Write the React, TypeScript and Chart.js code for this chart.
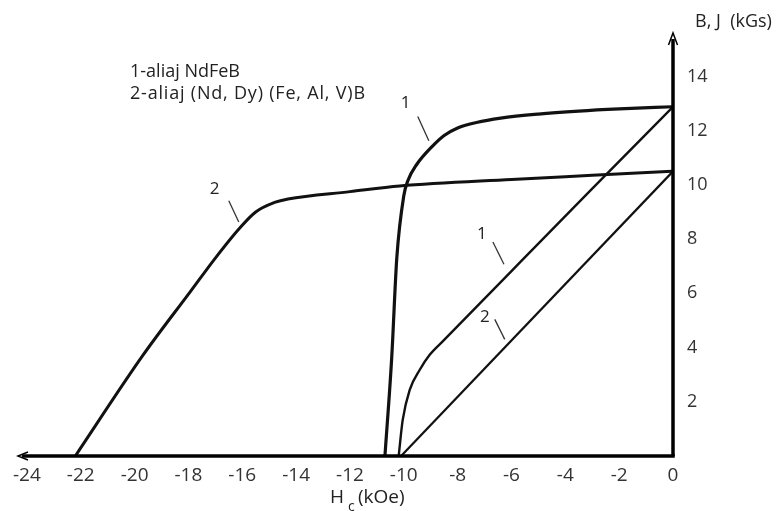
import React, { useEffect, useRef } from "react";
import { Chart, registerables } from "chart.js";

Chart.register(...registerables);

// Tick values
const xTicks = [-24, -22, -20, -18, -16, -14, -12, -10, -8, -6, -4, -2, 0];
const yTicks = [2, 4, 6, 8, 10, 12, 14];

// Alloy 1 (NdFeB) – intrinsic J curve
const alloy1J_H = [-10.7, -10.45, -10.26, -10.0, -9.85, -9.52, -8.96, -8.5, -8.0, -7.3, -6.4, -5.0, -3.5, -2.0, 0];
const alloy1J_B = [0, 3.6, 7.3, 9.6, 10.15, 10.75, 11.4, 11.82, 12.1, 12.3, 12.46, 12.61, 12.72, 12.8, 12.88];

// Alloy 1 – normal B curve
const alloy1B_H = [-10.19, -10.04, -9.78, -9.4, -9.03, -8.5, -6.0, -3.0, 0];
const alloy1B_B = [0, 1.33, 2.44, 3.19, 3.74, 4.28, 6.82, 9.86, 12.88];

// Alloy 2 ((Nd, Dy)(Fe, Al, V)B) – intrinsic J curve
const alloy2J_H = [-22.2, -19.7, -17.9, -17.0, -16.1, -15.5, -14.8, -14.3, -12.0, -10.15, -6.0, -3.0, 0];
const alloy2J_B = [0, 3.7, 6.1, 7.3, 8.4, 9.0, 9.35, 9.48, 9.75, 9.96, 10.2, 10.35, 10.5];

// Alloy 2 – normal B curve
const alloy2B_H = [-10.1, 0];
const alloy2B_B = [0, 10.5];

// Curve number labels (text, H, B) and their leader lines (H1, B1, H2, B2)
const markText = ["1", "2", "1", "2"];
const markH = [-9.93, -17.03, -7.1, -6.99];
const markB = [13.0, 9.85, 8.19, 5.11];
const leaderH1 = [-9.48, -16.5, -6.69, -6.62];
const leaderB1 = [12.52, 9.41, 7.89, 5.04];
const leaderH2 = [-9.07, -16.13, -6.28, -6.25];
const leaderB2 = [11.63, 8.63, 7.07, 4.3];

const legendLines = ["1-aliaj NdFeB", "2-aliaj (Nd, Dy) (Fe, Al, V)B"];
const yTitle = "B, J  (kGs)";
const xTitleMain = "H";
const xTitleSub = "c";
const xTitleUnit = "(kOe)";

const FONT = "'Open Sans', 'Noto Sans', sans-serif";

const toPts = (xs: number[], ys: number[]) => xs.map((x, i) => ({ x, y: ys[i] }));

const overlayPlugin = {
  id: "overlay",
  afterDraw(chart: any) {
    const ctx = chart.ctx as any;
    const { left, right, top, bottom } = chart.chartArea;
    const xs = chart.scales.x;
    const ys = chart.scales.y;
    ctx.save();
    // axes
    ctx.strokeStyle = "#000";
    ctx.lineWidth = 3.5;
    ctx.beginPath();
    ctx.moveTo(left + 4, bottom);
    ctx.lineTo(right + 1.75, bottom);
    ctx.stroke();
    ctx.beginPath();
    ctx.moveTo(right, top + 6);
    ctx.lineTo(right, bottom);
    ctx.stroke();
    // arrow heads
    ctx.lineWidth = 1.5;
    ctx.beginPath();
    ctx.moveTo(left + 10, bottom - 4);
    ctx.lineTo(left, bottom);
    ctx.lineTo(left + 10, bottom + 4);
    ctx.stroke();
    ctx.beginPath();
    ctx.moveTo(right - 4.5, top + 12);
    ctx.lineTo(right, top);
    ctx.lineTo(right + 4.5, top + 12);
    ctx.stroke();

    // curve number labels
    ctx.fillStyle = "#222";
    ctx.font = `17px ${FONT}`;
    ctx.textAlign = "center";
    ctx.textBaseline = "middle";
    markText.forEach((t, i) => {
      ctx.fillText(t, xs.getPixelForValue(markH[i]), ys.getPixelForValue(markB[i]));
    });

    // legend text
    ctx.textAlign = "left";
    ctx.font = `18px ${FONT}`;
    ctx.fillStyle = "#222";
    ctx.fillText(legendLines[0], 130, 72);
    ctx.letterSpacing = "0.8px";
    ctx.fillText(legendLines[1], 130, 94);
    ctx.letterSpacing = "0px";

    // y title
    ctx.font = `18px ${FONT}`;
    ctx.fillText(yTitle, 695, 22);

    // x title
    ctx.font = `19px ${FONT}`;
    ctx.fillText(xTitleMain, 330, 498);
    const wH = ctx.measureText(xTitleMain).width;
    ctx.font = `14px ${FONT}`;
    ctx.fillText(xTitleSub, 330 + wH + 4, 507);
    ctx.font = `19px ${FONT}`;
    ctx.fillText(xTitleUnit, 358, 498);
    ctx.restore();
  },
};

export default function App() {
  const canvasRef = useRef<HTMLCanvasElement | null>(null);

  useEffect(() => {
    if (!canvasRef.current) return;
    const thick = { borderColor: "#111", pointRadius: 0, fill: false, cubicInterpolationMode: "monotone" as const };
    const leaders = markText.map((_, i) => ({
      data: [
        { x: leaderH1[i], y: leaderB1[i] },
        { x: leaderH2[i], y: leaderB2[i] },
      ],
      borderColor: "#333",
      borderWidth: 1.3,
      pointRadius: 0,
      fill: false,
    }));
    const chart = new Chart(canvasRef.current, {
      type: "line",
      data: {
        datasets: [
          { ...thick, data: toPts(alloy1J_H, alloy1J_B), borderWidth: 3.2 },
          { ...thick, data: toPts(alloy1B_H, alloy1B_B), borderWidth: 2.4 },
          { ...thick, data: toPts(alloy2J_H, alloy2J_B), borderWidth: 3.0 },
          { ...thick, data: toPts(alloy2B_H, alloy2B_B), borderWidth: 2.2 },
          ...leaders,
        ] as any,
      },
      options: {
        animation: false,
        responsive: true,
        maintainAspectRatio: false,
        layout: { padding: { left: 18, top: 33, right: 0, bottom: 0 } },
        plugins: { legend: { display: false }, tooltip: { enabled: false }, title: { display: false } },
        scales: {
          x: {
            type: "linear",
            min: -24.33,
            max: 0,
            grid: { display: false, drawTicks: false },
            border: { display: false },
            afterBuildTicks: (s: any) => {
              s.ticks = xTicks.map((v) => ({ value: v }));
            },
            afterFit: (s: any) => {
              s.height = 55;
            },
            ticks: {
              padding: 8,
              color: "#333",
              font: { family: FONT, size: 19 },
              maxRotation: 0,
              autoSkip: false,
              callback: (v: any) => String(v),
            },
          },
          y: {
            type: "linear",
            position: "right",
            min: 0,
            max: 15.6,
            grid: { display: false, drawTicks: false },
            border: { display: false },
            afterBuildTicks: (s: any) => {
              s.ticks = yTicks.map((v) => ({ value: v }));
            },
            afterFit: (s: any) => {
              s.width = 110;
            },
            ticks: {
              padding: 14,
              color: "#333",
              font: { family: FONT, size: 18 },
              autoSkip: false,
              callback: (v: any) => String(v),
            },
          },
        },
      },
      plugins: [overlayPlugin],
    });
    return () => chart.destroy();
  }, []);

  return (
    <div style={{ position: "fixed", left: 0, top: 0, width: 783, height: 511, background: "#fff" }}>
      <canvas ref={canvasRef} />
    </div>
  );
}
